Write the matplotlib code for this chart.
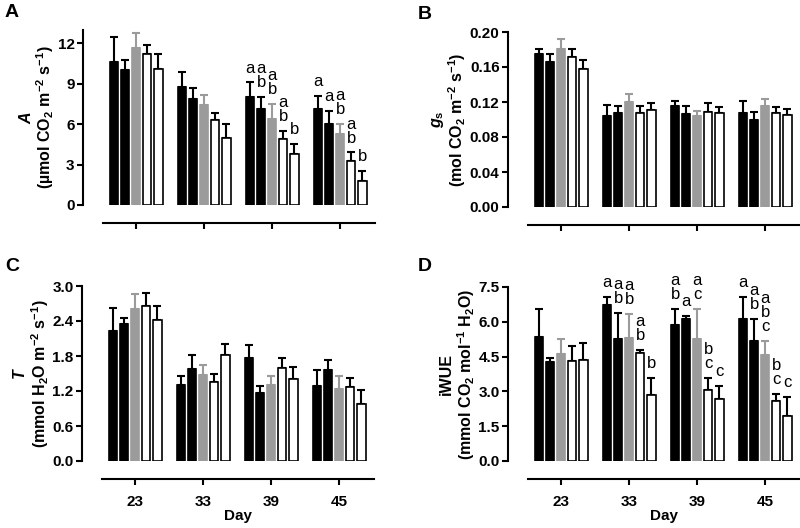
import matplotlib

matplotlib.use("Agg")

import matplotlib.pyplot as plt
import numpy as np

plt.rcParams["font.family"] = ["Liberation Sans", "DejaVu Sans"]
plt.rcParams["font.weight"] = "bold"
plt.rcParams["mathtext.fontset"] = "custom"
plt.rcParams["mathtext.rm"] = "Liberation Sans:bold"
plt.rcParams["mathtext.it"] = "Liberation Sans:bold:italic"
plt.rcParams["mathtext.bf"] = "Liberation Sans:bold"

days = ["23", "33", "39", "45"]

# rows = days, columns = the five treatments
a_mean = [[10.6, 10.0, 11.7, 11.2, 10.1],
          [8.8, 7.9, 7.4, 6.3, 5.0],
          [8.0, 7.1, 6.4, 4.9, 3.8],
          [7.1, 6.0, 5.3, 3.3, 1.8]]
a_top = [[12.5, 10.8, 12.8, 11.9, 11.2],
         [9.9, 8.7, 8.2, 6.8, 6.0],
         [9.1, 8.0, 7.5, 5.5, 4.5],
         [8.1, 7.0, 6.0, 3.9, 2.5]]
a_letters = [["", "", "", "", ""],
             ["", "", "", "", ""],
             ["a", "a\nb", "a\nb", "a\nb", "b"],
             ["a", "a", "a\nb", "a\nb", "b"]]

gs_mean = [[0.175, 0.166, 0.181, 0.171, 0.158],
           [0.104, 0.108, 0.120, 0.107, 0.111],
           [0.115, 0.106, 0.104, 0.109, 0.107],
           [0.107, 0.099, 0.115, 0.107, 0.105]]
gs_top = [[0.181, 0.175, 0.192, 0.181, 0.168],
          [0.117, 0.115, 0.129, 0.115, 0.119],
          [0.121, 0.115, 0.110, 0.119, 0.114],
          [0.121, 0.109, 0.123, 0.114, 0.112]]

t_mean = [[2.23, 2.35, 2.61, 2.66, 2.41],
          [1.30, 1.58, 1.47, 1.35, 1.82],
          [1.77, 1.17, 1.30, 1.60, 1.41],
          [1.29, 1.56, 1.23, 1.27, 0.97]]
t_top = [[2.62, 2.46, 2.86, 2.88, 2.66],
         [1.45, 1.81, 1.64, 1.49, 2.01],
         [1.99, 1.29, 1.46, 1.76, 1.62],
         [1.56, 1.73, 1.46, 1.42, 1.21]]

wue_mean = [[5.33, 4.25, 4.62, 4.33, 4.35],
            [6.72, 5.27, 5.30, 4.67, 2.85],
            [5.85, 6.10, 5.25, 3.05, 2.68],
            [6.10, 5.18, 4.55, 2.57, 1.95]]
wue_top = [[6.57, 4.42, 5.25, 4.97, 5.10],
           [7.08, 6.37, 6.32, 4.78, 3.58],
           [6.55, 6.25, 6.57, 3.58, 3.23],
           [7.05, 6.12, 5.17, 2.88, 2.78]]
wue_letters = [["", "", "", "", ""],
               ["a", "a\nb", "a\nb", "a\nb", "b"],
               ["a\nb", "a", "a\nc", "b\nc", "c"],
               ["a", "a\nb", "a\nb\nc", "b\nc", "c"]]

GRAY = "#9b9b9b"
face_colors = ["black", "black", GRAY, "white", "white"]
edge_colors = ["black", "black", GRAY, "black", "black"]
err_colors = ["black", "black", GRAY, "black", "black"]

W, H = 800, 528
fig = plt.figure(figsize=(W / 100, H / 100), dpi=100)


def px_axes(left, top, right, bottom):
    return fig.add_axes([left / W, 1 - bottom / H, (right - left) / W, (bottom - top) / H])


def draw_panel(ax, mean, top, letters, ylim, yticks, fmt, var_label, unit_label, show_x):
    mean = np.array(mean)
    top = np.array(top)
    step = 0.163
    width = 0.12
    x0 = np.arange(len(days))
    for k in range(5):
        xs = x0 + (k - 2) * step
        ax.bar(xs, mean[:, k], width=width, color=face_colors[k],
               edgecolor=edge_colors[k], linewidth=1.2, zorder=3)
        ax.errorbar(xs, mean[:, k], yerr=[np.zeros(len(days)), top[:, k] - mean[:, k]],
                    fmt="none", ecolor=err_colors[k], elinewidth=1.5, capsize=2.6,
                    capthick=1.5, zorder=2)
        if letters is not None:
            for i in range(len(days)):
                if letters[i][k]:
                    ax.annotate(letters[i][k], (xs[i], top[i, k]), xytext=(0, 5),
                                textcoords="offset points", ha="center", va="bottom",
                                fontsize=12, fontweight="normal", linespacing=0.92,
                                annotation_clip=False)
    ax.set_xlim(-0.49, 3.51)
    ax.set_ylim(*ylim)
    ax.set_yticks(yticks)
    ax.set_yticklabels([fmt.format(v) for v in yticks])
    ax.set_xticks(x0)
    if show_x:
        ax.set_xticklabels(days)
        ax.set_xlabel("Day", fontsize=11, fontweight="bold", labelpad=0)
    else:
        ax.set_xticklabels([])
    for side in ("top", "right"):
        ax.spines[side].set_visible(False)
    ax.spines["left"].set_position(("outward", 14.5))
    ax.spines["bottom"].set_position(("outward", 13))
    for side in ("left", "bottom"):
        ax.spines[side].set_linewidth(1.5)
    ax.tick_params(axis="y", direction="out", length=4.5, width=1.5, pad=1.5, labelsize=11)
    ax.tick_params(axis="x", direction="out", length=4.5, width=1.5, pad=7, labelsize=11)
    ax.set_ylabel(var_label + "\n" + unit_label, fontsize=11.5, fontweight="bold",
                  linespacing=1.05, labelpad=1)


ax_a = px_axes(103, 30, 375, 205)
draw_panel(ax_a, a_mean, a_top, a_letters, (0, 13), [0, 3, 6, 9, 12], "{:g}",
           r"$A$", r"(µmol CO$_2$ m$^{-2}$ s$^{-1}$)", False)

ax_b = px_axes(528, 32, 800, 207)
draw_panel(ax_b, gs_mean, gs_top, None, (0, 0.2), [0, 0.04, 0.08, 0.12, 0.16, 0.20], "{:.2f}",
           r"$g_{\mathrm{s}}$", r"(mol CO$_2$ m$^{-2}$ s$^{-1}$)", False)

ax_c = px_axes(102, 286, 374, 461)
draw_panel(ax_c, t_mean, t_top, None, (0, 3.0), [0, 0.6, 1.2, 1.8, 2.4, 3.0], "{:.1f}",
           r"$T$", r"(mmol H$_2$O m$^{-2}$ s$^{-1}$)", True)

ax_d = px_axes(528, 287, 800, 461)
draw_panel(ax_d, wue_mean, wue_top, wue_letters, (0, 7.5), [0, 1.5, 3.0, 4.5, 6.0, 7.5], "{:.1f}",
           "iWUE", r"(mmol CO$_2$ mol$^{-1}$ H$_2$O)", True)

for label, (x, y) in zip("ABCD", [(5, 4), (418, 6), (5, 258), (418, 258)]):
    fig.text(x / W, 1 - y / H, label, fontsize=14, fontweight="bold", ha="left", va="top")

fig.savefig("out.png", dpi=100)
